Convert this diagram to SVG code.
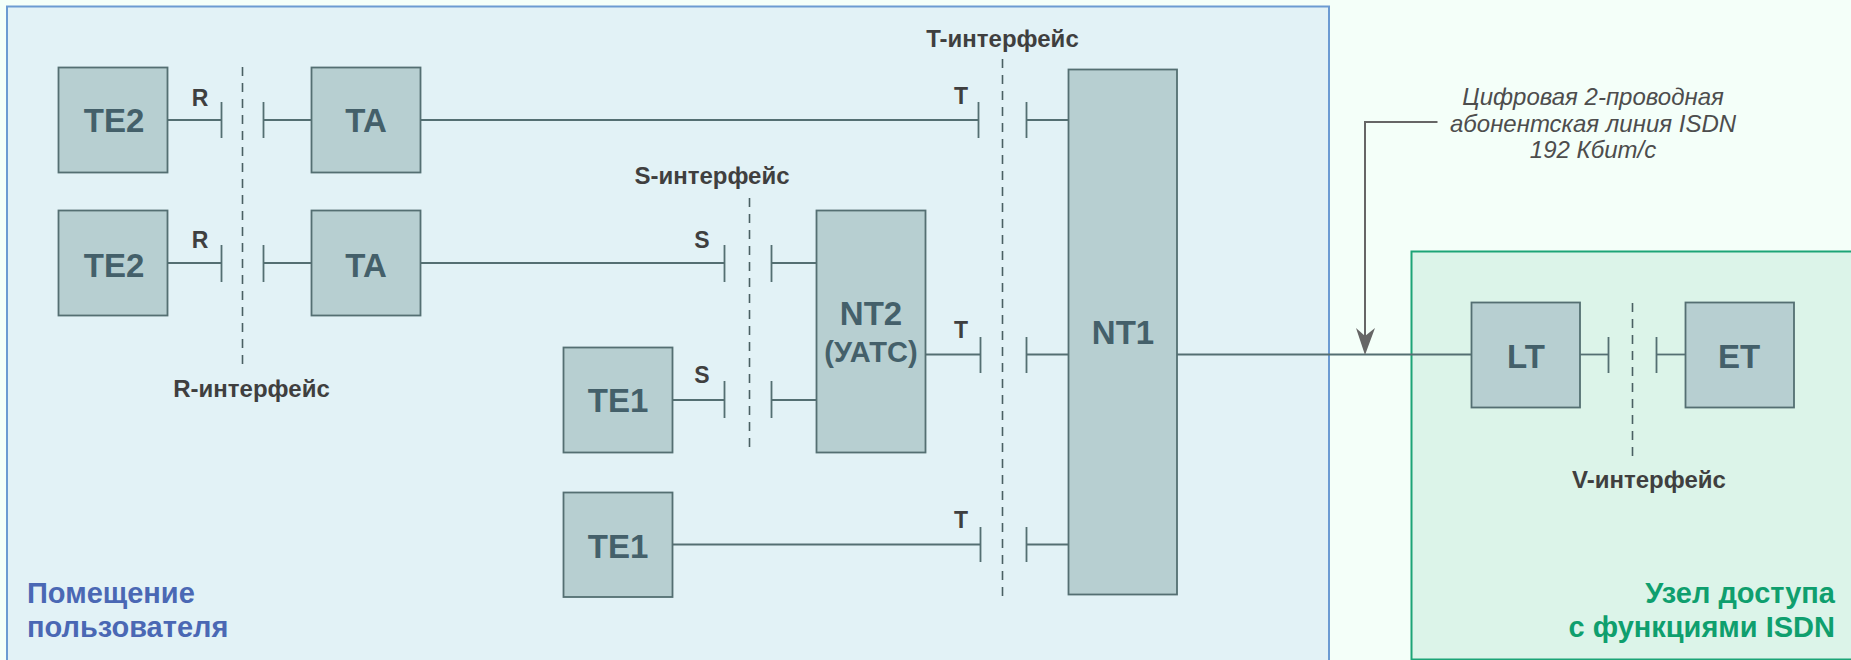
<svg xmlns="http://www.w3.org/2000/svg" width="1851" height="660" viewBox="0 0 1851 660">
<defs>
<style>
text{font-family:"Liberation Sans",Arial,sans-serif}
.n rect{fill:#b7cfd1;stroke:#546f72;stroke-width:1.800}
.n text{fill:#44606a;font-size:33px;font-weight:bold;text-anchor:middle}
.c line,.c polyline{stroke:#546f72;stroke-width:1.800;fill:none}
.c .d{stroke:#4a6063;stroke-width:1.600;stroke-dasharray:9 7}
.c .l{stroke:#666;stroke-width:2}
.p{fill:#3f3f3f;font-size:23px;font-weight:bold;text-anchor:middle}
.i{fill:#3f3f3f;font-size:24px;font-weight:bold;text-anchor:middle}
.a{fill:#4d4d4d;font-size:24px;font-style:italic;text-anchor:middle}
.b{fill:#4a68b4;font-size:29px;font-weight:bold}
.g{fill:#0f9f6e;font-size:29px;font-weight:bold;text-anchor:end}
</style>
</defs>
<rect width="1851" height="660" fill="#f4fff9"/>
<rect id="zone-user" x="7" y="6.500" width="1322" height="670" fill="#e2f2f6" stroke="#6c9bd2" stroke-width="2"/>
<rect id="zone-access" x="1411.500" y="251.500" width="460" height="408" fill="#dcf4e9" stroke="#1ca477" stroke-width="2"/>
<g id="connectors" class="c">
<line x1="167" y1="120" x2="221" y2="120"/><line x1="221.500" y1="102" x2="221.500" y2="138"/>
<line x1="263.500" y1="102" x2="263.500" y2="138"/><line x1="263" y1="120" x2="312" y2="120"/>
<line x1="167" y1="263" x2="221" y2="263"/><line x1="221.500" y1="245" x2="221.500" y2="282"/>
<line x1="263.500" y1="245" x2="263.500" y2="282"/><line x1="263" y1="263" x2="312" y2="263"/>
<line x1="420" y1="120" x2="978" y2="120"/><line x1="978.500" y1="102" x2="978.500" y2="138"/>
<line x1="1026.500" y1="102" x2="1026.500" y2="138"/><line x1="1026" y1="120" x2="1068" y2="120"/>
<line x1="420" y1="263" x2="724" y2="263"/><line x1="724.500" y1="245" x2="724.500" y2="282"/>
<line x1="771.500" y1="245" x2="771.500" y2="282"/><line x1="771" y1="263" x2="817" y2="263"/>
<line x1="672" y1="400" x2="724" y2="400"/><line x1="724.500" y1="381" x2="724.500" y2="418"/>
<line x1="771.500" y1="381" x2="771.500" y2="418"/><line x1="771" y1="400" x2="817" y2="400"/>
<line x1="925" y1="354.500" x2="980" y2="354.500"/><line x1="980.500" y1="337" x2="980.500" y2="373"/>
<line x1="1026.500" y1="337" x2="1026.500" y2="373"/><line x1="1026" y1="354.500" x2="1068" y2="354.500"/>
<line x1="672" y1="544.500" x2="980" y2="544.500"/><line x1="980.500" y1="527" x2="980.500" y2="562"/>
<line x1="1026.500" y1="527" x2="1026.500" y2="562"/><line x1="1026" y1="544.500" x2="1068" y2="544.500"/>
<line x1="1177" y1="354.500" x2="1471" y2="354.500"/>
<line x1="1580" y1="354.500" x2="1608" y2="354.500"/><line x1="1608.500" y1="337" x2="1608.500" y2="373"/>
<line x1="1656.500" y1="337" x2="1656.500" y2="373"/><line x1="1656" y1="354.500" x2="1685" y2="354.500"/>
<line class="d" x1="242.500" y1="67" x2="242.500" y2="365"/>
<line class="d" x1="749.500" y1="198" x2="749.500" y2="453"/>
<line class="d" x1="1002.500" y1="59" x2="1002.500" y2="597"/>
<line class="d" x1="1632.500" y1="303" x2="1632.500" y2="457"/>
<polyline class="l" points="1437.500,122 1365,122 1365,340"/>
<polygon points="1365,355 1375,328 1365,336 1356,328" fill="#666"/>
</g>
<g id="te2-1" class="n"><rect x="58.500" y="67.500" width="109" height="105"/><text x="114" y="132">TE2</text></g>
<g id="te2-2" class="n"><rect x="58.500" y="210.500" width="109" height="105"/><text x="114" y="277">TE2</text></g>
<g id="ta-1" class="n"><rect x="311.500" y="67.500" width="109" height="105"/><text x="366" y="132">TA</text></g>
<g id="ta-2" class="n"><rect x="311.500" y="210.500" width="109" height="105"/><text x="366" y="277">TA</text></g>
<g id="nt2" class="n"><rect x="816.500" y="210.500" width="109" height="242"/><text x="871" y="325">NT2</text><text x="871" y="362" style="font-size:29px">(УАТС)</text></g>
<g id="nt1" class="n"><rect x="1068.500" y="69.500" width="108.500" height="525"/><text x="1123" y="344">NT1</text></g>
<g id="te1-1" class="n"><rect x="563.500" y="347.500" width="109" height="105"/><text x="618" y="412">TE1</text></g>
<g id="te1-2" class="n"><rect x="563.500" y="492.500" width="109" height="104.500"/><text x="618" y="558">TE1</text></g>
<g id="lt" class="n"><rect x="1471.500" y="302.500" width="108.500" height="105"/><text x="1526" y="368">LT</text></g>
<g id="et" class="n"><rect x="1685.500" y="302.500" width="108.500" height="105"/><text x="1739" y="368">ET</text></g>
<g id="labels">
<text class="p" x="200" y="106">R</text><text class="p" x="200" y="248">R</text>
<text class="p" x="961" y="104">T</text><text class="p" x="961" y="338">T</text><text class="p" x="961" y="528">T</text>
<text class="p" x="702" y="248">S</text><text class="p" x="702" y="383">S</text>
<text class="i" x="251.500" y="397">R-интерфейс</text>
<text class="i" x="712" y="184">S-интерфейс</text>
<text class="i" x="1002.500" y="47">T-интерфейс</text>
<text class="i" x="1649" y="488">V-интерфейс</text>
<text class="a" x="1593" y="105">Цифровая 2-проводная</text>
<text class="a" x="1593" y="131.500">абонентская линия ISDN</text>
<text class="a" x="1593" y="157.500">192 Кбит/с</text>
<text class="b" x="27" y="603">Помещение</text>
<text class="b" x="27" y="637">пользователя</text>
<text class="g" x="1835" y="603">Узел доступа</text>
<text class="g" x="1835" y="637">с функциями ISDN</text>
</g>
</svg>
